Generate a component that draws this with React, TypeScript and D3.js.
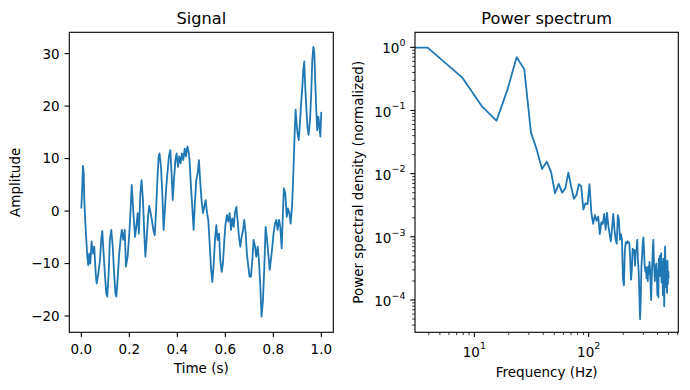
import React, { useEffect, useRef } from 'react';
import * as d3 from 'd3';

const width = 690,
  height = 390;
const blue = '#1f77b4';
const font = 'DejaVu Sans, sans-serif';
const tickSize = 13.5;
const titleSize = 16.2;

// --- Signal panel ---
const signalTime = [
  0, 0.004, 0.007, 0.01, 0.0125, 0.017, 0.025, 0.029, 0.033, 0.0375, 0.043, 0.049, 0.054, 0.06, 0.064,
  0.071, 0.078, 0.083, 0.0875, 0.093, 0.099, 0.104, 0.108, 0.114, 0.119, 0.125, 0.131, 0.136, 0.142,
  0.146, 0.151, 0.158, 0.164, 0.169, 0.175, 0.181, 0.186, 0.193, 0.2, 0.206, 0.21, 0.214, 0.218, 0.224,
  0.229, 0.235, 0.24, 0.246, 0.251, 0.257, 0.2625, 0.267, 0.272, 0.278, 0.283, 0.289, 0.294, 0.3, 0.306,
  0.311, 0.317, 0.322, 0.326, 0.332, 0.3375, 0.343, 0.349, 0.354, 0.36, 0.365, 0.371, 0.376, 0.381,
  0.386, 0.392, 0.397, 0.403, 0.408, 0.414, 0.419, 0.425, 0.431, 0.436, 0.442, 0.447, 0.451, 0.457,
  0.4625, 0.468, 0.474, 0.479, 0.485, 0.49, 0.496, 0.501, 0.507, 0.5125, 0.518, 0.524, 0.529, 0.535,
  0.54, 0.546, 0.551, 0.557, 0.5625, 0.568, 0.574, 0.579, 0.585, 0.59, 0.596, 0.601, 0.607, 0.6125,
  0.618, 0.624, 0.629, 0.635, 0.64, 0.646, 0.651, 0.657, 0.6625, 0.668, 0.674, 0.679, 0.685, 0.69,
  0.696, 0.701, 0.707, 0.7125, 0.718, 0.724, 0.729, 0.735, 0.74, 0.746, 0.751, 0.757, 0.7625, 0.768,
  0.774, 0.779, 0.785, 0.79, 0.796, 0.801, 0.807, 0.8125, 0.818, 0.824, 0.829, 0.835, 0.84, 0.844,
  0.85, 0.856, 0.861, 0.867, 0.872, 0.878, 0.883, 0.889, 0.893, 0.897, 0.901, 0.906, 0.91, 0.915,
  0.921, 0.925, 0.929, 0.933, 0.9375, 0.942, 0.947, 0.953, 0.958, 0.9625, 0.967, 0.971, 0.975, 0.979,
  0.983, 0.988, 0.992, 0.996, 1.0,
];
const signalAmp = [
  0.5, 4.6, 8.6, 7.2, 2.1, -2.4, -8.7, -10.3, -8.1, -10.0, -5.8, -8.1, -6.8, -11.9, -13.8,
  -11.9, -9.3, -5.5, -3.8, -8.1, -12.5, -15.7, -16.3, -11.9, -5.5, -3.6, -6.8, -11.2, -15.7,
  -16.3, -13.2, -8.1, -5.2, -3.6, -5.5, -3.6, -10.6, -8.7, -4.3, 0.8, 5.0, 2.1, -1.1, -4.9,
  -3.0, -0.4, -4.3, 3.4, 5.9, 2.1, -4.3, -8.7, -5.5, -1.1, 1.0, -0.4, -1.7, -3.6, -4.6,
  -0.4, 5.9, 10.4, 11.0, 8.4, 3.4, -3.6, 0.8, 4.6, 7.8, 10.4, 11.6, 7.2, 2.1,
  5.9, 9.7, 11.0, 8.4, 10.4, 9.1, 11.0, 9.7, 11.9, 10.4, 12.3, 11.3, 9.7, 4.6,
  0.8, -3.6, 2.1, 5.9, 7.2, 9.7, 5.3, 2.1, -0.4, 0.8, 2.1, -0.4, -1.7, -6.2,
  -10.6, -13.5, -10.6, -5.5, -2.7, -5.5, -4.3, -9.3, -11.6, -10.0, -5.5, -2.4, -0.8, -2.0,
  -0.4, -3.6, -1.4, -3.0, -0.4, 0.8, -1.7, -4.9, -6.8, -4.9, -3.6, -1.7, -4.3, -8.1,
  -10.6, -12.5, -12.5, -9.3, -5.5, -6.8, -8.7, -6.8, -9.3, -14.4, -20.1, -17.0, -10.6, -3.0,
  -5.5, -8.1, -11.2, -9.3, -6.8, -4.3, -2.4, -1.7, -3.6, -1.7, -3.0, -7.1, -0.4, 4.3,
  3.4, -1.1, 0.5, -0.4, -2.4, 0.8, 6.5, 14.8, 19.3, 16.7, 14.8, 13.5, 16.1, 19.9,
  23.7, 26.9, 28.5, 23.7, 19.9, 16.1, 14.5, 17.3, 22.4, 28.8, 31.3, 30.1, 24.3, 19.3,
  15.4, 18.0, 16.1, 14.2, 18.9,
];
const signalXTicks = [0, 0.2, 0.4, 0.6, 0.8, 1.0];
const signalYTicks = [-20, -10, 0, 10, 20, 30];

// --- Power spectrum panel: one value per frequency bin (bin 0 = DC) ---
const binHz = 1000 / 256;
const psd = [
  1.0, 0.99, 0.335, 0.115, 0.069, 0.216, 0.7, 0.45, 0.045, 0.024, 0.0119, 0.0155, 0.0107, 0.0049,
  0.0069, 0.005, 0.0059, 0.0104, 0.0062, 0.004, 0.0046, 0.0068, 0.0064, 0.0027, 0.0034, 0.0033,
  0.0068, 0.0024, 0.0016, 0.0022, 0.0018, 0.0021, 0.0011, 0.0017, 0.0016, 0.0023, 0.0013, 0.0024,
  0.0015, 0.0011, 0.00085, 0.0014, 0.0023, 0.0013, 0.0009, 0.00078, 0.0022, 0.0019, 0.0009, 0.0011,
  0.0009, 0.00022, 0.00017, 0.0006, 0.00082, 0.00078, 0.00085, 0.00082, 0.0008, 0.00045, 0.00021,
  0.0003, 0.00065, 0.00055, 0.00062, 0.00035, 0.0006, 0.00062, 0.0009, 0.00042, 0.00028, 0.00012,
  0.00005, 0.00011, 0.00035, 0.0005, 0.00082, 0.00098, 0.0006, 0.00035, 0.00028, 0.00033, 0.00022,
  0.00032, 0.0002, 0.00034, 0.00026, 0.0004, 0.0003, 0.00016, 0.0001, 0.00022, 0.00038, 0.00062,
  0.0009, 0.00045, 0.00028, 0.0002, 0.00035, 0.00025, 0.00038, 0.00022, 0.00012, 0.0003, 0.00011,
  0.00045, 0.00028, 0.0005, 0.00024, 0.00032, 0.00055, 0.00019, 0.0004, 0.00028, 0.00012, 0.00045,
  0.00025, 0.00008, 0.00022, 0.0007, 0.00035, 0.00016, 0.0004, 0.00022, 0.00013, 0.00042, 0.00018,
  0.00028, 0.00022,
];
const psdXExponents = [1, 2];
const psdYExponents = [0, -1, -2, -3, -4];

const left = { x0: 69.3, x1: 333.3, y0: 32.3, y1: 332.3 };
const right = { x0: 415, x1: 678.3, y0: 32.3, y1: 332.3 };

function frame(g, box) {
  g.append('rect')
    .attr('x', box.x0)
    .attr('y', box.y0)
    .attr('width', box.x1 - box.x0)
    .attr('height', box.y1 - box.y0)
    .attr('fill', 'none')
    .attr('stroke', '#000')
    .attr('stroke-width', 1.1);
}

function txt(g, x, y, s, size, anchor) {
  return g.append('text')
    .attr('x', x)
    .attr('y', y)
    .attr('font-family', font)
    .attr('font-size', size)
    .attr('text-anchor', anchor)
    .attr('fill', '#000')
    .text(s);
}

// "10" with a raised exponent, like mathtext
function powLabel(g, x, y, exp, anchor) {
  const t = g.append('text')
    .attr('x', x)
    .attr('y', y)
    .attr('font-family', font)
    .attr('font-size', tickSize)
    .attr('text-anchor', anchor)
    .attr('fill', '#000');
  t.append('tspan').text('10');
  t.append('tspan')
    .attr('dy', -7.3)
    .attr('font-size', tickSize * 0.7)
    .text(exp < 0 ? '\u2212' + Math.abs(exp) : String(exp));
}

function drawChart(node) {
  const svg = d3.select(node);
  svg.selectAll('*').remove();

  // ---------- left: Signal ----------
  const x1 = d3.scaleLinear().domain([-0.05, 1.05]).range([left.x0, left.x1]);
  const y1 = d3.scaleLinear().domain([-23.1, 34.06]).range([left.y1, left.y0]);
  const gl = svg.append('g');

  const sigLine = d3.line()
    .x((d) => x1(d[0]))
    .y((d) => y1(d[1]));
  gl.append('path')
    .datum(signalTime.map((t, i) => [t, signalAmp[i]]))
    .attr('d', sigLine)
    .attr('fill', 'none')
    .attr('stroke', blue)
    .attr('stroke-width', 1.8)
    .attr('stroke-linejoin', 'round');

  frame(gl, left);

  signalXTicks.forEach((t) => {
    const px = x1(t);
    gl.append('line').attr('x1', px).attr('x2', px).attr('y1', left.y1).attr('y2', left.y1 + 4.8)
      .attr('stroke', '#000').attr('stroke-width', 1.1);
    txt(gl, px, 353.5, t.toFixed(1), tickSize, 'middle');
  });
  signalYTicks.forEach((v) => {
    const py = y1(v);
    gl.append('line').attr('x1', left.x0 - 4.8).attr('x2', left.x0).attr('y1', py).attr('y2', py)
      .attr('stroke', '#000').attr('stroke-width', 1.1);
    txt(gl, 59.7, py + 4.9, v < 0 ? '\u2212' + Math.abs(v) : String(v), tickSize, 'end');
  });
  txt(gl, (left.x0 + left.x1) / 2, 24.3, 'Signal', titleSize, 'middle');
  txt(gl, (left.x0 + left.x1) / 2, 372.5, 'Time (s)', tickSize, 'middle');
  txt(gl, 0, 0, 'Amplitude', tickSize, 'middle')
    .attr('transform', `translate(19.5,${(left.y0 + left.y1) / 2}) rotate(-90)`);

  // ---------- right: Power spectrum ----------
  const x2 = d3.scaleLog().domain([3.03, 607]).range([right.x0, right.x1]);
  const y2 = d3.scaleLog().domain([3.08e-5, 1.73]).range([right.y1, right.y0]);
  const gr = svg.append('g');

  svg.append('defs').append('clipPath').attr('id', 'psd-clip')
    .append('rect')
    .attr('x', right.x0).attr('y', right.y0)
    .attr('width', right.x1 - right.x0).attr('height', right.y1 - right.y0);

  // bin 0 sits at f = 0, which a log axis pushes off to the far left
  const psdLine = d3.line()
    .x((d) => (d[0] > 0 ? x2(d[0]) : right.x0 - 5000))
    .y((d) => y2(d[1]));
  gr.append('path')
    .datum(psd.map((p, i) => [i * binHz, p]))
    .attr('d', psdLine)
    .attr('clip-path', 'url(#psd-clip)')
    .attr('fill', 'none')
    .attr('stroke', blue)
    .attr('stroke-width', 1.8)
    .attr('stroke-linejoin', 'round');

  frame(gr, right);

  const [fx0, fx1] = x2.domain();
  for (let e = 0; e <= 3; e++) {
    for (let m = 1; m <= 9; m++) {
      const f = m * Math.pow(10, e);
      if (f < fx0 || f > fx1) continue;
      const major = m === 1;
      gr.append('line').attr('x1', x2(f)).attr('x2', x2(f))
        .attr('y1', right.y1).attr('y2', right.y1 + (major ? 4.8 : 2.8))
        .attr('stroke', '#000').attr('stroke-width', major ? 1.1 : 0.8);
    }
  }
  psdXExponents.forEach((e) => powLabel(gr, x2(Math.pow(10, e)), 356.7, e, 'middle'));

  const [py0, py1] = y2.domain();
  for (let e = -5; e <= 0; e++) {
    for (let m = 1; m <= 9; m++) {
      const p = m * Math.pow(10, e);
      if (p < py0 || p > py1) continue;
      const major = m === 1;
      gr.append('line').attr('x1', right.x0 - (major ? 4.8 : 2.8)).attr('x2', right.x0)
        .attr('y1', y2(p)).attr('y2', y2(p))
        .attr('stroke', '#000').attr('stroke-width', major ? 1.1 : 0.8);
    }
  }
  psdYExponents.forEach((e) => powLabel(gr, 405.4, y2(Math.pow(10, e)) + 6, e, 'end'));

  txt(gr, (right.x0 + right.x1) / 2, 24.3, 'Power spectrum', titleSize, 'middle');
  txt(gr, (right.x0 + right.x1) / 2, 376.6, 'Frequency (Hz)', tickSize, 'middle');
  txt(gr, 0, 0, 'Power spectral density (normalized)', tickSize, 'middle')
    .attr('transform', `translate(363.2,${(right.y0 + right.y1) / 2}) rotate(-90)`);
}

export default function App() {
  const ref = useRef(null);

  useEffect(() => {
    drawChart(ref.current);
  }, []);

  return (
    <svg
      ref={ref}
      width={width}
      height={height}
      style={{ position: 'absolute', left: 0, top: 0, background: '#fff' }}
    />
  );
}
